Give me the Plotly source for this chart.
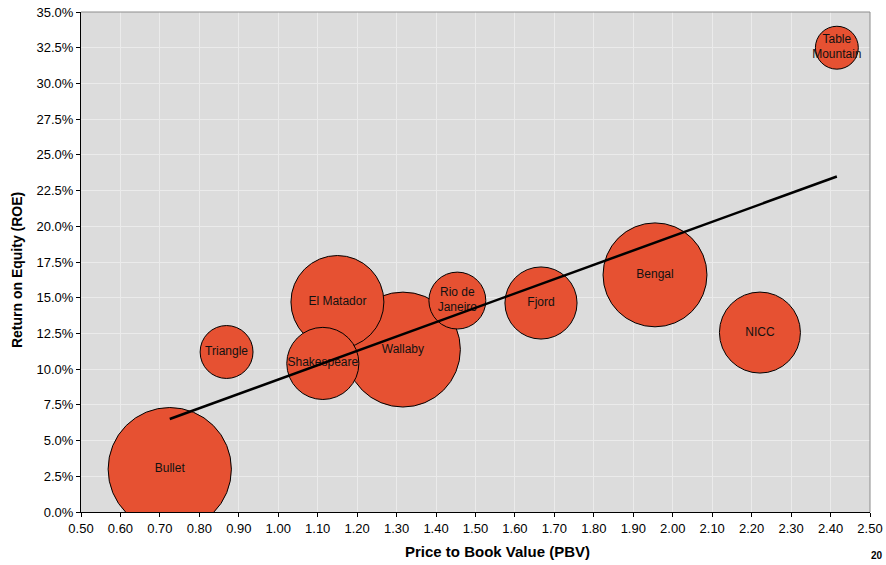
import numpy as np
import plotly.graph_objects as go

# Company data: price-to-book vs return on equity, bubble area = relative size
companies = ["Bullet", "Triangle", "El Matador", "Shakespeare", "Wallaby",
             "Rio de Janeiro", "Fjord", "Bengal", "NICC", "Table Mountain"]
labels = ["Bullet", "Triangle", "El Matador", "Shakespeare", "Wallaby",
          "Rio de<br>Janeiro", "Fjord", "Bengal", "NICC", "Table<br>Mountain"]
pbv = [0.725, 0.869, 1.150, 1.113, 1.316, 1.454, 1.666, 1.955, 2.221, 2.416]
roe = [0.030, 0.112, 0.147, 0.104, 0.1137, 0.148, 0.1463, 0.166, 0.1256, 0.325]
size = [3800, 700, 2160, 1300, 3300, 810, 1300, 2700, 1640, 460]

x_ticks = [round(0.5 + 0.1 * i, 2) for i in range(21)]
y_ticks = [0.025 * i for i in range(15)]

# Draw the largest bubbles first so smaller ones stay visible
order = np.argsort(size)[::-1]
px_ = [pbv[i] for i in order]
py_ = [roe[i] for i in order]
ps_ = [size[i] for i in order]
pl_ = [labels[i] for i in order]

# Least-squares trend line across the PBV range
slope, intercept = np.polyfit(pbv, roe, 1)
tx = np.array([min(pbv), max(pbv)])
ty = slope * tx + intercept

FONT = "Liberation Sans, Arial, sans-serif"
LABEL_FONT = "Liberation Sans Narrow, Arial Narrow, Liberation Sans, Arial, sans-serif"

fig = go.Figure()
fig.add_trace(go.Scatter(
    x=px_, y=py_, mode="markers+text", text=pl_,
    textposition="middle center",
    textfont=dict(family=LABEL_FONT, size=12, color="#111111"),
    marker=dict(size=ps_, sizemode="area", sizeref=0.5,
                color="#E65132", opacity=1,
                line=dict(color="black", width=1)),
    hovertext=companies, hoverinfo="text+x+y", showlegend=False,
))
fig.add_trace(go.Scatter(
    x=tx, y=ty, mode="lines",
    line=dict(color="black", width=2.5), showlegend=False, hoverinfo="skip",
))

fig.update_layout(
    width=886, height=565,
    margin=dict(l=81, r=16, t=12, b=53),
    paper_bgcolor="white", plot_bgcolor="#DCDCDC",
    font=dict(family=FONT, color="black"),
    xaxis=dict(range=[0.5, 2.5], tickvals=x_ticks, tickformat=".2f",
               automargin=False,
               showgrid=True, gridcolor="#EBEBEB", gridwidth=1,
               zeroline=False, showline=True, linecolor="black", linewidth=1,
               ticks="outside", ticklen=4, tickcolor="black",
               tickfont=dict(size=13, family=FONT)),
    yaxis=dict(range=[0, 0.35], tickvals=y_ticks, tickformat=".1%",
               automargin=False,
               showgrid=True, gridcolor="#EBEBEB", gridwidth=1,
               zeroline=False, showline=True, linecolor="black", linewidth=1,
               ticks="outside", ticklen=4, tickcolor="black",
               tickfont=dict(size=13, family=FONT)),
    shapes=[
        dict(type="line", xref="paper", yref="paper", x0=0, x1=1, y0=1, y1=1,
             line=dict(color="#8C8C8C", width=1)),
        dict(type="line", xref="paper", yref="paper", x0=1, x1=1, y0=0, y1=1,
             line=dict(color="#8C8C8C", width=1)),
    ],
    annotations=[
        dict(text="<b>Price to Book Value (PBV)</b>", xref="paper", yref="paper",
             x=0.5285, y=-0.078, xanchor="center", yanchor="middle",
             showarrow=False, font=dict(size=15, family=FONT, color="black")),
        dict(text="<b>Return on Equity (ROE)</b>", xref="paper", yref="paper",
             x=-0.081, y=0.484, xanchor="center", yanchor="middle", textangle=-90,
             showarrow=False, font=dict(size=14, family=FONT, color="black")),
        dict(text="<b>20</b>", xref="paper", yref="paper",
             x=1.0185, y=-0.086, xanchor="right", yanchor="middle",
             showarrow=False, font=dict(size=10, family=FONT, color="black")),
    ],
)

fig.write_html("out.html")
